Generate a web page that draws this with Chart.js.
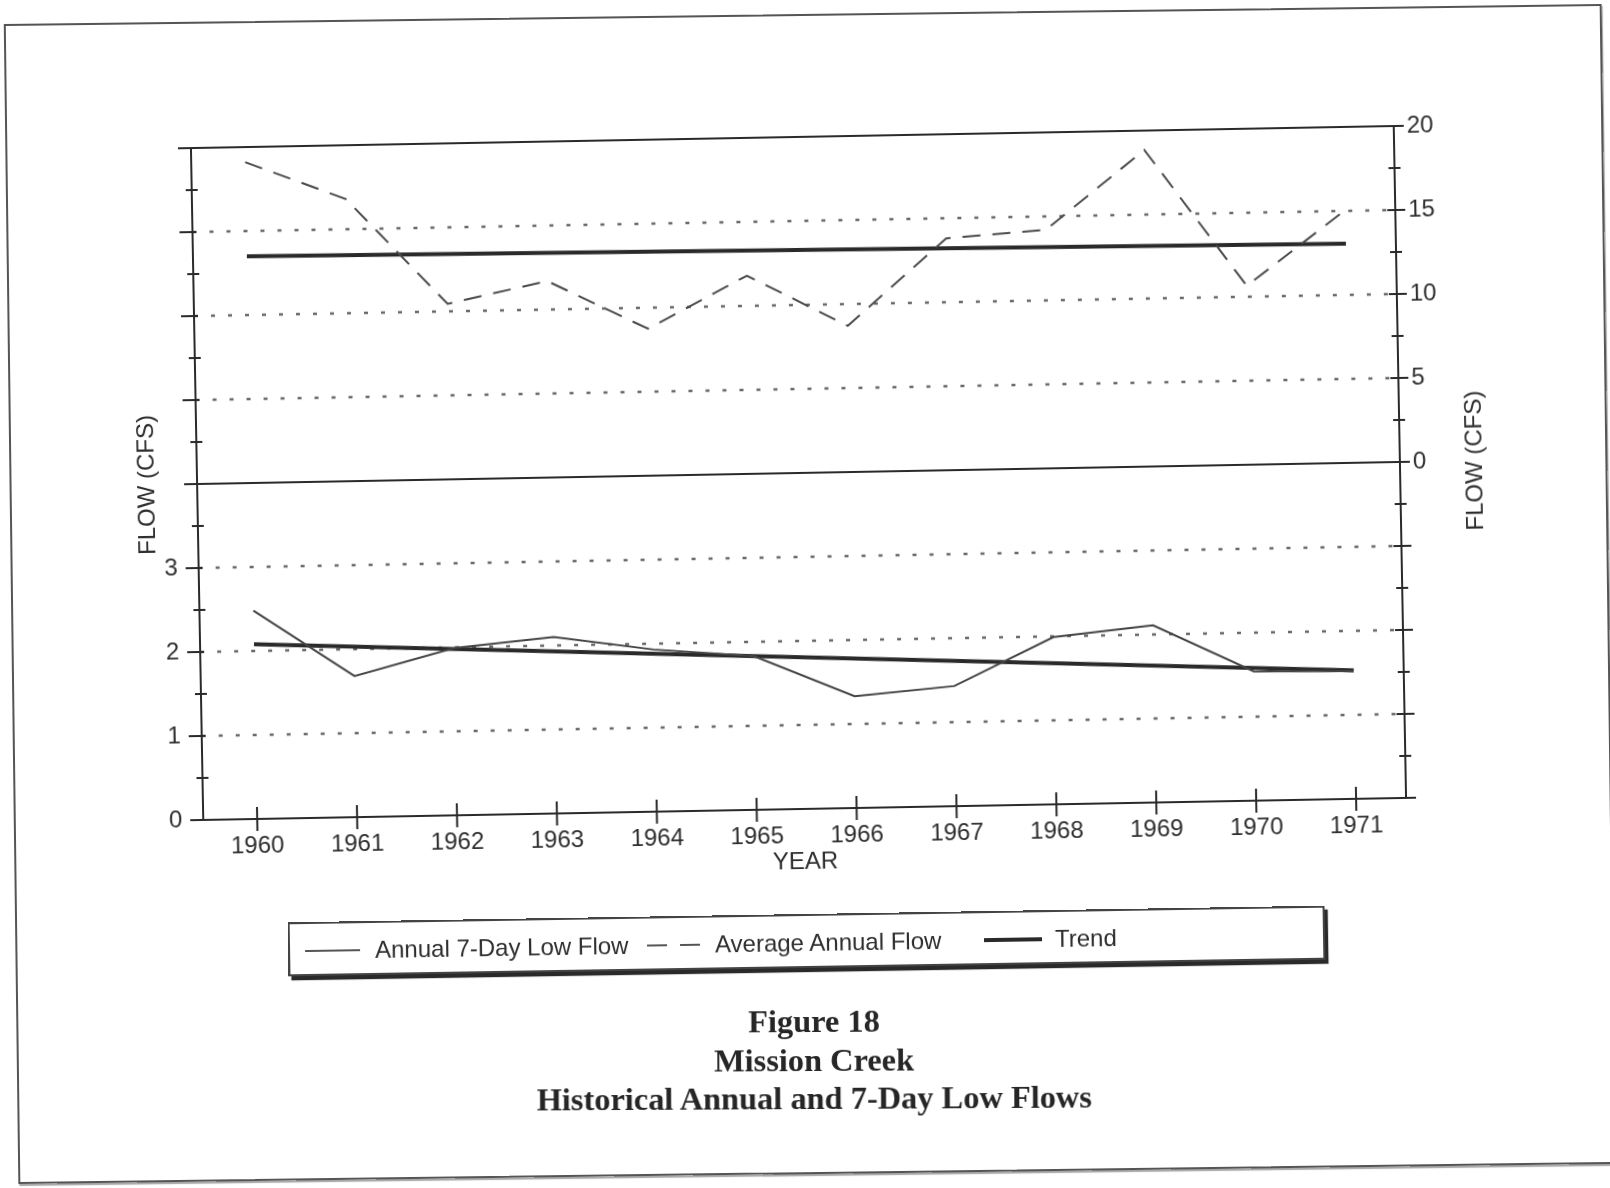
<!DOCTYPE html>
<html>
<head>
<meta charset="utf-8">
<title>Mission Creek – Historical Annual and 7-Day Low Flows</title>
<script src="https://cdn.jsdelivr.net/npm/chart.js@4.4.1/dist/chart.umd.min.js"></script>
<style>
  html, body { margin: 0; padding: 0; background: #ffffff; }
  body { width: 1610px; height: 1188px; position: relative; overflow: hidden; }
  #page-border {
    position: absolute; left: 11px; top: 14px; width: 1598px; height: 1160px;
    box-sizing: border-box; border: 2px solid #555;
    box-shadow: 1px 2px 1px rgba(0,0,0,0.35);
    transform: rotate(-0.72deg); transform-origin: center;
  }
  #plot-wrap {
    position: absolute; left: 0; top: 0; width: 1610px; height: 1188px;
    transform: rotate(-1.05deg); transform-origin: 798px 473px;
  }
  #legend {
    position: absolute; left: 288px; top: 914px; width: 1037px; height: 54px;
    box-sizing: border-box; border: 2px solid #444; background: #fff;
    box-shadow: 3px 4px 1px #2a2a2a;
    transform: rotate(-0.92deg); transform-origin: center;
    font-family: "Liberation Sans", Arial, sans-serif; font-size: 24px; color: #2e2e2e;
  }
  #legend .txt { position: absolute; top: 0; line-height: 54px; white-space: nowrap; }
  #legend .ln { position: absolute; }
  #caption {
    position: absolute; left: 0; top: 1002px; width: 1628px; text-align: center;
    font-family: "Liberation Serif", "Times New Roman", serif; font-weight: bold;
    font-size: 32.4px; line-height: 38.5px; color: #262626;
    transform: rotate(-0.3deg); transform-origin: 814px 40px;
  }
</style>
</head>
<body>
<div id="page-border"></div>
<div id="plot-wrap"><canvas id="chart" width="1610" height="1188"></canvas></div>

<div id="legend">
  <div class="ln" style="left:15px; top:26px; width:55px; border-top:2px solid #555;"></div>
  <div class="txt" style="left:85px;">Annual 7-Day Low Flow</div>
  <div class="ln" style="left:357px; top:26px; width:20px; border-top:2px solid #555;"></div>
  <div class="ln" style="left:390px; top:26px; width:20px; border-top:2px solid #555;"></div>
  <div class="txt" style="left:425px;">Average Annual Flow</div>
  <div class="ln" style="left:694px; top:25px; width:58px; border-top:4px solid #2a2a2a;"></div>
  <div class="txt" style="left:765px;">Trend</div>
</div>

<div id="caption">Figure 18<br>Mission Creek<br>Historical Annual and 7-Day Low Flows</div>

<script>
// Water years on the horizontal axis
const years = [1960, 1961, 1962, 1963, 1964, 1965, 1966, 1967, 1968, 1969, 1970, 1971];

// Annual 7-day low flow (cfs), plotted against the left axis
const lowFlow7Day = [2.48, 1.68, 1.99, 2.10, 1.93, 1.83, 1.33, 1.43, 1.99, 2.11, 1.54, 1.52];

// Average annual flow (cfs), plotted against the right axis
const avgAnnualFlow = [19.1, 16.8, 10.45, 11.7, 8.75, 11.8, 8.7, 13.8, 14.2, 18.85, 10.65, 15.05];

// Linear trend end points for each series
const trendYears = [1960, 1971];
const lowFlowTrend = [2.08, 1.53];
const avgFlowTrend = [13.5, 13.05];

// Labelled ticks on each vertical axis
const leftTickLabels = [0, 1, 2, 3];
const rightTickLabels = [0, 5, 10, 15, 20];

// Dotted reference lines: lower panel (left axis) and upper panel (right axis)
const lowerGridValues = [1, 2, 3];
const upperGridValues = [5, 10, 15];

const SANS = '"Liberation Sans", Arial, Helvetica, sans-serif';
const INK = '#2a2a2a';
const TEXT = '#2e2e2e';

function pts(xs, ys) { return xs.map((x, i) => ({ x: x, y: ys[i] })); }

// Axis frame, panel divider, crossing tick marks and dotted reference lines
const frameAndGrid = {
  id: 'frameAndGrid',
  beforeDatasetsDraw(chart) {
    const { ctx, chartArea: a, scales } = chart;
    ctx.save();
    ctx.strokeStyle = '#6a6a6a';
    ctx.lineWidth = 2.5;
    ctx.setLineDash([4, 13]);
    lowerGridValues.forEach(v => {
      const y = scales.yL.getPixelForValue(v);
      ctx.beginPath(); ctx.moveTo(a.left, y); ctx.lineTo(a.right, y); ctx.stroke();
    });
    upperGridValues.forEach(v => {
      const y = scales.yR.getPixelForValue(v);
      ctx.beginPath(); ctx.moveTo(a.left, y); ctx.lineTo(a.right, y); ctx.stroke();
    });
    ctx.restore();
  },
  afterDatasetsDraw(chart) {
    const { ctx, chartArea: a, scales } = chart;
    ctx.save();
    ctx.strokeStyle = INK;
    ctx.lineWidth = 2;
    ctx.setLineDash([]);
    const seg = (x1, y1, x2, y2) => { ctx.beginPath(); ctx.moveTo(x1, y1); ctx.lineTo(x2, y2); ctx.stroke(); };

    // frame
    seg(a.left, a.top, a.right, a.top);
    seg(a.left, a.bottom, a.right, a.bottom);
    seg(a.left, a.top, a.left, a.bottom);
    seg(a.right, a.top, a.right, a.bottom);
    // divider between the two panels (right axis zero)
    const y0 = scales.yR.getPixelForValue(0);
    seg(a.left, y0, a.right, y0);

    // left axis ticks every 0.5
    for (let v = 0; v <= 8; v += 0.5) {
      const y = scales.yL.getPixelForValue(v);
      const major = Number.isInteger(v);
      seg(a.left - (major ? 13 : 6), y, a.left + (major ? 4 : 6), y);
    }
    // right axis ticks every 2.5
    for (let v = -20; v <= 20; v += 2.5) {
      const y = scales.yR.getPixelForValue(v);
      const major = v % 5 === 0;
      seg(a.right - (major ? 8 : 6), y, a.right + (major ? 10 : 6), y);
    }
    // year ticks crossing the bottom axis
    years.forEach(yr => {
      const x = scales.x.getPixelForValue(yr);
      seg(x, a.bottom - 12, x, a.bottom + 12);
    });
    ctx.restore();
  },
  afterDraw(chart) {
    // right axis title, reading bottom to top like the left one
    const { ctx, chartArea: a } = chart;
    ctx.save();
    ctx.translate(1475, (a.top + a.bottom) / 2);
    ctx.rotate(-Math.PI / 2);
    ctx.fillStyle = TEXT;
    ctx.font = '24px ' + SANS;
    ctx.textAlign = 'center';
    ctx.textBaseline = 'middle';
    ctx.fillText('FLOW (CFS)', 0, 0);
    ctx.restore();
  }
};

new Chart(document.getElementById('chart'), {
  type: 'line',
  data: {
    datasets: [
      {
        label: 'Annual 7-Day Low Flow',
        data: pts(years, lowFlow7Day),
        yAxisID: 'yL',
        borderColor: '#444444',
        borderWidth: 2,
        pointRadius: 0,
        tension: 0
      },
      {
        label: 'Average Annual Flow',
        data: pts(years, avgAnnualFlow),
        yAxisID: 'yR',
        borderColor: '#4a4a4a',
        borderWidth: 2,
        borderDash: [18, 12],
        pointRadius: 0,
        tension: 0
      },
      {
        label: 'Trend',
        data: pts(trendYears, lowFlowTrend),
        yAxisID: 'yL',
        borderColor: '#2a2a2a',
        borderWidth: 4,
        pointRadius: 0
      },
      {
        label: 'Trend',
        data: pts(trendYears, avgFlowTrend),
        yAxisID: 'yR',
        borderColor: '#2a2a2a',
        borderWidth: 4,
        pointRadius: 0
      }
    ]
  },
  options: {
    responsive: false,
    animation: false,
    devicePixelRatio: 1,
    layout: { padding: { left: 129, right: 110, top: 137, bottom: 311.6 } },
    plugins: { legend: { display: false }, tooltip: { enabled: false } },
    scales: {
      x: {
        type: 'linear',
        position: 'bottom',
        min: 1959.46,
        max: 1971.5,
        afterBuildTicks: s => { s.ticks = years.map(v => ({ value: v })); },
        afterFit: s => { s.height = 67.4; },
        grid: { display: false, drawTicks: false },
        border: { display: false },
        ticks: {
          autoSkip: false, maxRotation: 0, padding: 13, color: TEXT,
          font: { family: SANS, size: 24 },
          callback: v => String(v)
        },
        title: {
          display: true, text: 'YEAR', color: TEXT,
          font: { family: SANS, size: 24 },
          padding: { top: 0, bottom: 0 }
        }
      },
      yL: {
        type: 'linear',
        position: 'left',
        min: 0,
        max: 8,
        afterBuildTicks: s => { s.ticks = leftTickLabels.map(v => ({ value: v })); },
        afterFit: s => { s.width = 68; },
        grid: { display: false, drawTicks: false },
        border: { display: false },
        ticks: { padding: 21, color: TEXT, font: { family: SANS, size: 24 }, callback: v => String(v) },
        title: {
          display: true, text: 'FLOW (CFS)', color: TEXT,
          font: { family: SANS, size: 24 },
          padding: { top: 4, bottom: 4 }
        }
      },
      yR: {
        type: 'linear',
        position: 'right',
        min: -20,
        max: 20,
        afterBuildTicks: s => { s.ticks = rightTickLabels.map(v => ({ value: v })); },
        afterFit: s => { s.width = 100; },
        grid: { display: false, drawTicks: false },
        border: { display: false },
        ticks: { padding: 13, color: TEXT, font: { family: SANS, size: 24 }, callback: v => String(v) },
        title: { display: false }
      }
    }
  },
  plugins: [frameAndGrid]
});
</script>
</body>
</html>
